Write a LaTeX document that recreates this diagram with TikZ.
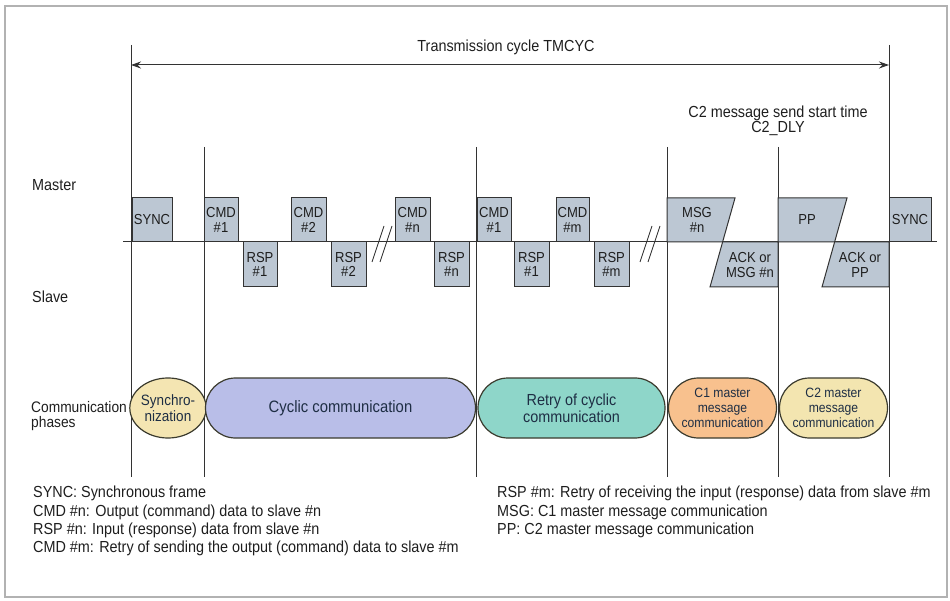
\documentclass[tikz,border=0pt]{standalone}
\usepackage{fontspec}
\setmainfont{Liberation Sans}[FakeStretch=0.9]
\usetikzlibrary{arrows.meta,shapes.geometric}
\definecolor{boxfill}{HTML}{BCC7D3}
\definecolor{syncfill}{HTML}{F4E5B2}
\definecolor{cycfill}{HTML}{B9BEE8}
\definecolor{retryfill}{HTML}{8ED6C9}
\definecolor{cofill}{HTML}{F8C18E}
\definecolor{ctfill}{HTML}{F3E5B0}
\definecolor{txt}{HTML}{1E1E1E}
\definecolor{phtxt}{HTML}{1E2E44}
\definecolor{edge}{HTML}{333333}
\tikzset{
  fr/.style={draw=gray!60, line width=1.6pt},
  tline/.style={draw=edge, line width=1pt},
  frame/.style={draw=edge, line width=1pt, fill=boxfill},
  boxtext/.style={inner sep=0pt, align=center, text=txt, font=\fontsize{14.5}{14.5}\selectfont},
  msgbox/.style={frame, inner sep=0pt, align=center, text=txt, minimum height=44pt, font=\fontsize{14.5}{14.5}\selectfont},
  label/.style={inner sep=0pt, anchor=west, align=left, text=txt, font=\fontsize{16}{15}\selectfont},
  phase/.style={draw=edge!90!olive, line width=1.2pt, inner sep=0pt, align=center, text=phtxt, minimum height=60pt},
  brk/.style={draw=edge, line width=0.9pt}
}
\begin{document}
\begin{tikzpicture}[x=1pt,y=-1pt]
\useasboundingbox (0,0) rectangle (950,601);
\draw[fr] (5,6) rectangle (947,597);

% vertical time lines
\coordinate (v1t) at (131,45);  \coordinate (v1b) at (131,477);
\coordinate (v2t) at (204,147); \coordinate (v2b) at (204,477);
\coordinate (v3t) at (476,147); \coordinate (v3b) at (476,477);
\coordinate (v4t) at (667,147); \coordinate (v4b) at (667,477);
\coordinate (v5t) at (778,147); \coordinate (v5b) at (778,477);
\coordinate (v6t) at (889,45);  \coordinate (v6b) at (889,477);
\foreach \i in {1,...,6} {\draw[tline] (v\i t) -- (v\i b);}

% transmission cycle arrow
\coordinate (al) at (131,65); \coordinate (ar) at (889,65);
\draw[tline, {Stealth[length=10pt,width=7pt]}-{Stealth[length=10pt,width=7pt]}] (al) -- (ar);
\node[boxtext, font=\fontsize{16}{16}\selectfont] (tcyc) at (506,47) {Transmission cycle TMCYC};

\node[boxtext, font=\fontsize{16}{14}\selectfont] (c2dly) at (778,121) {C2 message send start time\\C2\_DLY};

% row labels
\node[label] (master) at (32,185) {Master};
\node[label] (slave) at (32,297) {Slave};
\node[label, font=\fontsize{15.3}{15}\selectfont] (cphase) at (31,416) {Communication\\phases};

% baseline
\coordinate (bl) at (123,242); \coordinate (br) at (937,242);
\draw[tline] (bl) -- (br);

% master boxes (y 198..242)
\node[msgbox, minimum width=40pt] (sync1) at (152,220) {SYNC};
\node[msgbox, minimum width=34pt] (cmd1) at (221,220) {CMD\\\#1};
\node[msgbox, minimum width=35pt] (cmd2) at (308.5,220) {CMD\\\#2};
\node[msgbox, minimum width=35pt] (cmdn) at (412.5,220) {CMD\\\#n};
\node[msgbox, minimum width=34pt] (rcmd1) at (494,220) {CMD\\\#1};
\node[msgbox, minimum width=33pt] (cmdm) at (572.5,220) {CMD\\\#m};
\node[msgbox, minimum width=42pt] (sync2) at (910,220) {SYNC};
% slave boxes (y 242..287)
\node[msgbox, minimum width=34pt, minimum height=45pt] (rsp1) at (260,264.5) {RSP\\\#1};
\node[msgbox, minimum width=35pt, minimum height=45pt] (rsp2) at (348.5,264.5) {RSP\\\#2};
\node[msgbox, minimum width=35pt, minimum height=45pt] (rspn) at (451.5,264.5) {RSP\\\#n};
\node[msgbox, minimum width=35pt, minimum height=45pt] (rrsp1) at (531.5,264.5) {RSP\\\#1};
\node[msgbox, minimum width=35pt, minimum height=45pt] (rspm) at (611.5,264.5) {RSP\\\#m};

% message frames (parallelograms)
\draw[frame] (667,198) -- (735,198) -- (722.6,242) -- (667,242) -- cycle;
\node[boxtext] (msg) at (697,220) {MSG\\\#n};
\draw[frame] (722.6,242) -- (778,242) -- (778,287) -- (710,287) -- cycle;
\node[boxtext] (ackmsg) at (750,265) {ACK or\\MSG \#n};
\draw[frame] (778,198) -- (847,198) -- (834.6,242) -- (778,242) -- cycle;
\node[boxtext] (pp) at (807,220) {PP};
\draw[frame] (834.6,242) -- (889,242) -- (889,287) -- (822,287) -- cycle;
\node[boxtext] (ackpp) at (860,265) {ACK or\\PP};

% break marks
\coordinate (b1a) at (384,226); \coordinate (b1b) at (372,262);
\coordinate (b2a) at (392,226); \coordinate (b2b) at (380,262);
\coordinate (b3a) at (652,226); \coordinate (b3b) at (640,262);
\coordinate (b4a) at (660,226); \coordinate (b4b) at (648,262);
\draw[brk] (b1a) -- (b1b) (b2a) -- (b2b) (b3a) -- (b3b) (b4a) -- (b4b);

% communication phases
\node[phase, ellipse, fill=syncfill, minimum width=70pt, font=\fontsize{15}{16}\selectfont] (psync) at (168,408) {Synchro-\\nization};
\node[phase, rectangle, rounded corners=30pt, fill=cycfill, minimum width=270pt, font=\fontsize{16.5}{17}\selectfont] (pcyc) at (340.5,408) {Cyclic communication};
\node[phase, rectangle, rounded corners=30pt, fill=retryfill, minimum width=187pt, font=\fontsize{16}{17}\selectfont] (pretry) at (571.5,408) {Retry of cyclic\\communication};
\node[phase, rectangle, rounded corners=30pt, fill=cofill, minimum width=108pt, font=\fontsize{13.5}{15}\selectfont] (pc1) at (722.5,408) {C1 master\\message\\communication};
\node[phase, rectangle, rounded corners=30pt, fill=ctfill, minimum width=108pt, font=\fontsize{13.5}{15}\selectfont] (pc2) at (833.5,408) {C2 master\\message\\communication};

% legend
\node[label, anchor=north west, font=\fontsize{16}{18.3}\selectfont] (legl) at (33,486)
  {SYNC: Synchronous frame\\CMD \#n: Output (command) data to slave \#n\\RSP \#n: Input (response) data from slave \#n\\CMD \#m: Retry of sending the output (command) data to slave \#m};
\node[label, anchor=north west, font=\fontsize{16}{18.3}\selectfont] (legr) at (497,486)
  {RSP \#m: Retry of receiving the input (response) data from slave \#m\\MSG: C1 master message communication\\PP: C2 master message communication};
\end{tikzpicture}
\end{document}
